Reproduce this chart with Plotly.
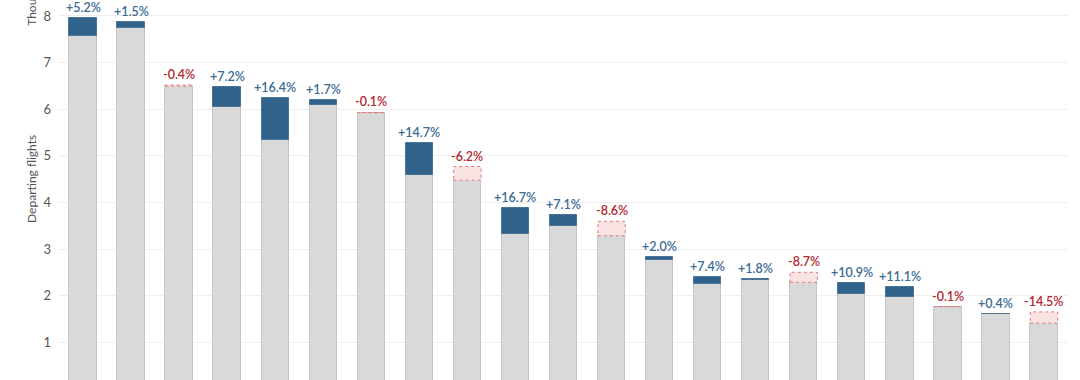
import plotly.graph_objects as go

# Data (thousands of departing flights)
positions = list(range(21))
previous = [7.56, 7.75, 6.52, 6.04, 5.35, 6.09, 5.93, 4.59, 4.77, 3.32, 3.49,
            3.595, 2.77, 2.24, 2.325, 2.50, 2.04, 1.965, 1.765, 1.60, 1.65]
current = [7.95, 7.865, 6.495, 6.47, 6.23, 6.195, 5.925, 5.27, 4.475, 3.875, 3.735,
           3.285, 2.825, 2.405, 2.365, 2.285, 2.265, 2.185, 1.763, 1.607, 1.41]
change_labels = ["+5.2%", "+1.5%", "-0.4%", "+7.2%", "+16.4%", "+1.7%", "-0.1%",
                 "+14.7%", "-6.2%", "+16.7%", "+7.1%", "-8.6%", "+2.0%", "+7.4%",
                 "+1.8%", "-8.7%", "+10.9%", "+11.1%", "-0.1%", "+0.4%", "-14.5%"]

GRAY = "#d9d9d9"
GRAY_LINE = "#c6c6c6"
BLUE = "#30628c"
BLUE_LINE = "#4a7398"
BLUE_TEXT = "#3b6a94"
RED_TEXT = "#b3262c"
PINK = "#f9e2e2"
PINK_LINE = "#e07a7a"
FONT = "Lato"
BAR_W = 0.57

base_vals = [min(p, c) for p, c in zip(previous, current)]
up_x = [x for x, p, c in zip(positions, previous, current) if c > p]
up_base = [p for p, c in zip(previous, current) if c > p]
up_h = [c - p for p, c in zip(previous, current) if c > p]

fig = go.Figure()
fig.add_trace(go.Bar(x=positions, y=base_vals, width=BAR_W,
                     marker=dict(color=GRAY, line=dict(color=GRAY_LINE, width=1)),
                     hoverinfo="skip", showlegend=False))
fig.add_trace(go.Bar(x=up_x, y=up_h, base=up_base, width=BAR_W,
                     marker=dict(color=BLUE, line=dict(color=BLUE_LINE, width=1)),
                     hoverinfo="skip", showlegend=False))

# dashed boxes for decreases
for x, p, c in zip(positions, previous, current):
    if c < p:
        fig.add_shape(type="rect", xref="x", yref="y",
                      x0=x - BAR_W / 2, x1=x + BAR_W / 2, y0=c, y1=p,
                      fillcolor=PINK, line=dict(color=PINK_LINE, width=1, dash="dot"),
                      layer="above")

# percentage labels above each bar
for x, p, c, lab in zip(positions, previous, current, change_labels):
    fig.add_annotation(x=x, y=max(p, c), xref="x", yref="y", text=lab,
                       showarrow=False, yanchor="bottom", xanchor="center",
                       yshift=1,
                       font=dict(family=FONT, size=12.5, weight=600,
                                 color=BLUE_TEXT if c > p else RED_TEXT))

fig.add_annotation(text="Departing flights", xref="paper", yref="paper",
                   x=-0.0268, y=0.529, textangle=-90, showarrow=False,
                   font=dict(family=FONT, size=12, color="#555555"),
                   xanchor="center", yanchor="middle")
fig.add_annotation(text="Thousands", xref="paper", yref="paper",
                   x=-0.0268, y=0.928, textangle=-90, showarrow=False,
                   font=dict(family=FONT, size=12, color="#555555"),
                   xanchor="center", yanchor="bottom")

fig.update_layout(
    width=1080, height=380,
    margin=dict(l=59, r=12, t=0, b=0, autoexpand=False),
    plot_bgcolor="white", paper_bgcolor="white",
    barmode="overlay", bargap=0,
    font=dict(family=FONT, color="#555555"),
    xaxis=dict(range=[-0.5, 20.5], showticklabels=False, showgrid=False,
               zeroline=False, showline=False, ticks="", automargin=False),
    yaxis=dict(range=[0.19, 8.343], tickvals=[1, 2, 3, 4, 5, 6, 7, 8],
               showgrid=True, gridcolor="#efefef", gridwidth=1,
               zeroline=False, showline=False, ticks="", automargin=False,
               ticklabelstandoff=7,
               tickfont=dict(family=FONT, size=13, color="#555555")),
)

fig.write_html("out.html", config={"displayModeBar": False},
               post_script="document.body.style.margin='0';")
